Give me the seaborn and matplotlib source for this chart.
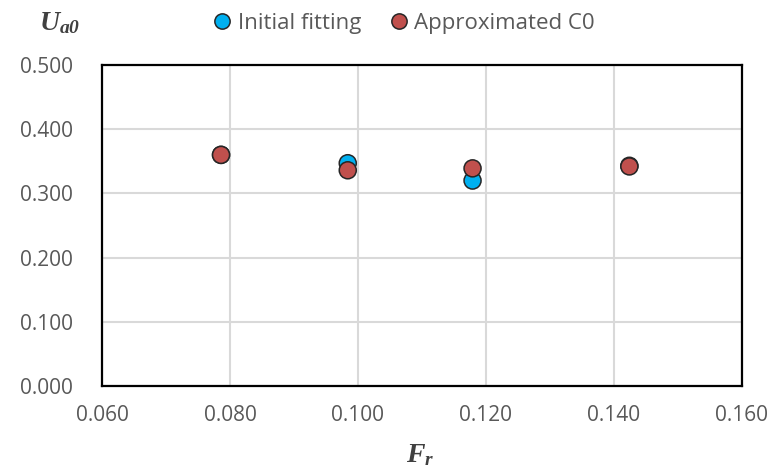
import matplotlib
matplotlib.use("Agg")
import matplotlib.pyplot as plt
import seaborn as sns
import pandas as pd
from matplotlib.lines import Line2D

fr_values = [0.0786, 0.0984, 0.1179, 0.1424]
initial_fitting = [0.360, 0.347, 0.320, 0.343]
approximated_c0 = [0.360, 0.336, 0.339, 0.342]
series_names = ["Initial fitting", "Approximated C0"]
x_ticks = [0.060, 0.080, 0.100, 0.120, 0.140, 0.160]
y_ticks = [0.000, 0.100, 0.200, 0.300, 0.400, 0.500]

df = pd.DataFrame({
    "Fr": fr_values * 2,
    "Ua0": initial_fitting + approximated_c0,
    "series": [series_names[0]] * len(fr_values) + [series_names[1]] * len(fr_values),
})

sns.set_style("white")
plt.rcParams["font.family"] = ["Open Sans", "DejaVu Sans"]
plt.rcParams["mathtext.fontset"] = "custom"
plt.rcParams["mathtext.bfit"] = "Liberation Serif:bold:italic"
plt.rcParams["mathtext.it"] = "Liberation Serif:italic"
plt.rcParams["mathtext.bf"] = "Liberation Serif:bold"
plt.rcParams["mathtext.rm"] = "Liberation Serif"

fig = plt.figure(figsize=(7.72, 4.72), dpi=100)
ax = fig.add_axes([102/772, 1-386/472, 640/772, 321/472])

palette = {series_names[0]: "#00B0F0", series_names[1]: "#C0504D"}
sns.scatterplot(data=df, x="Fr", y="Ua0", hue="series", palette=palette,
                s=150, edgecolor="#262626", linewidth=1.1, ax=ax, zorder=3,
                legend=False)

ax.set_xlim(0.06, 0.16)
ax.set_ylim(0.0, 0.5)
ax.set_xticks(x_ticks)
ax.set_yticks(y_ticks)
ax.set_xticklabels([f"{v:.3f}" for v in x_ticks])
ax.set_yticklabels([f"{v:.3f}" for v in y_ticks])
ax.tick_params(axis="y", labelsize=15, labelcolor="#595959", length=0, pad=21)
ax.tick_params(axis="x", labelsize=15, labelcolor="#595959", length=0, pad=14)
ax.grid(True, color="#D9D9D9", linewidth=1.5, zorder=0)
ax.set_axisbelow(True)
for sp in ax.spines.values():
    sp.set_color("black")
    sp.set_linewidth(1.6)
ax.set_xlabel("")
ax.set_ylabel("")

fig.text(420/772, 1-455/472, r"$\mathbfit{F}_{\mathbfit{r}}$", fontsize=20,
         ha="center", va="center", color="#404040")
fig.text(60/772, 1-23/472, r"$\mathbfit{U}_{\mathbfit{a0}}$", fontsize=20,
         ha="center", va="center", color="#404040")

handles = [Line2D([0], [0], marker="o", linestyle="", markersize=11,
                  markerfacecolor=palette[n], markeredgecolor="#262626",
                  markeredgewidth=1.1) for n in series_names]
fig.legend(handles, series_names, loc="center", bbox_to_anchor=(402/772, 1-23/472),
           ncol=2, frameon=False, fontsize=16, handletextpad=0.1,
           columnspacing=1.1, labelcolor="#595959", handlelength=1.2,
           borderpad=0.0)

fig.savefig("out.png", dpi=100)
